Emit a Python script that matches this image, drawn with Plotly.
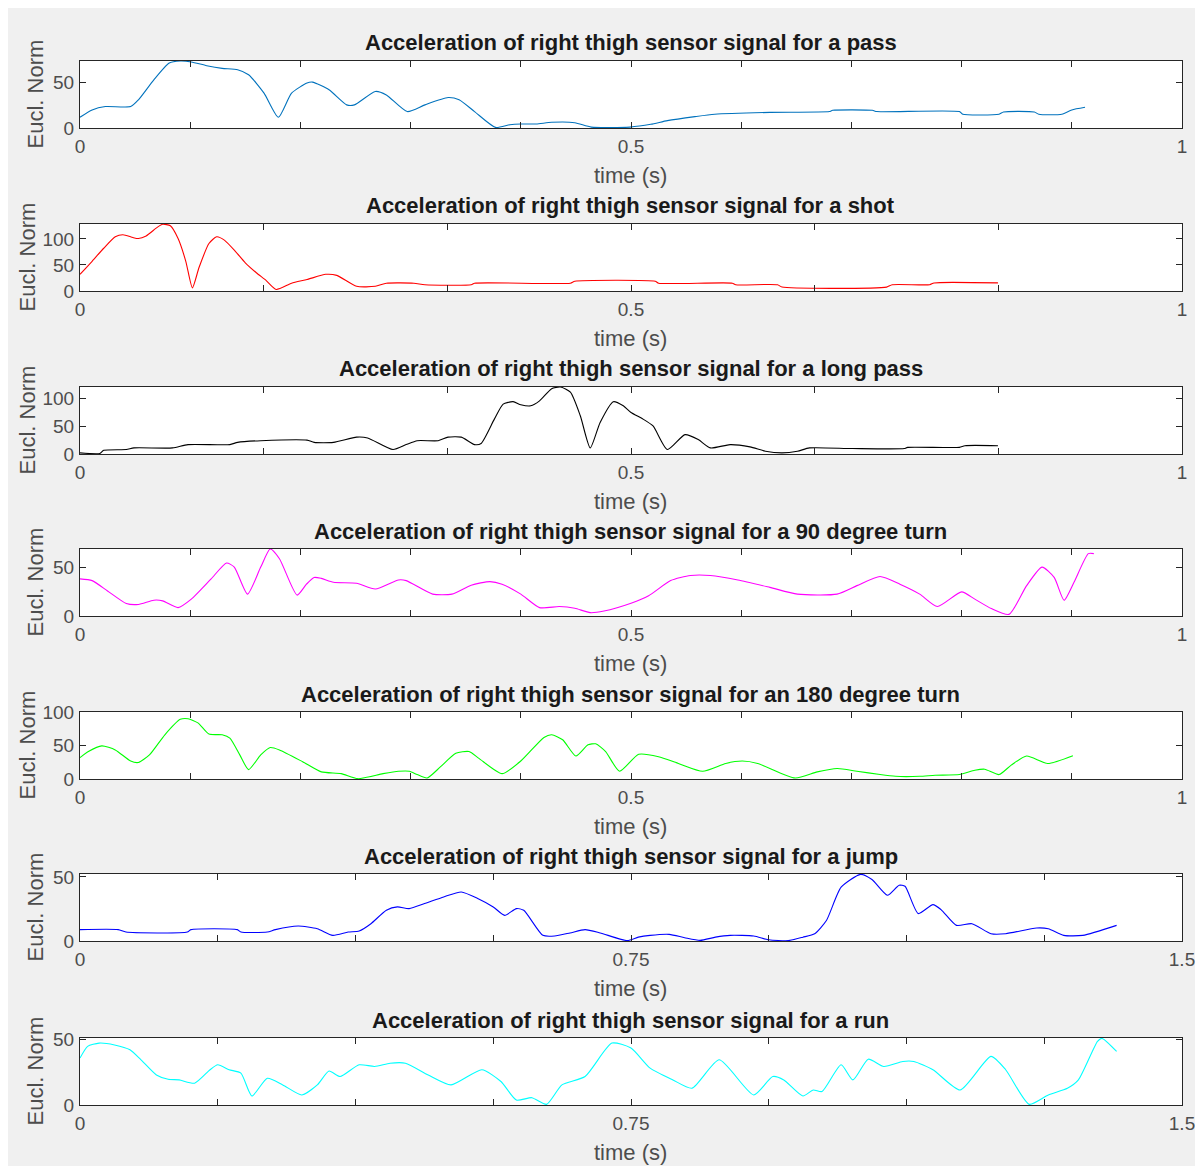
import plotly.graph_objects as go

# the page has an 8 px body margin: the figure starts at (8, 8) and fills the rest of the window
OFF = 8
W, H = 1203 - OFF, 1166 - OFF

# ---------------- data ----------------
pass_t = [0, 0.011, 0.023, 0.046, 0.053, 0.067, 0.081, 0.091, 0.101, 0.115, 0.129, 0.143, 0.153, 0.167,
          0.180, 0.192, 0.206, 0.211, 0.226, 0.242, 0.249, 0.268, 0.278, 0.297, 0.313, 0.334, 0.344, 0.358,
          0.377, 0.390, 0.400, 0.414, 0.428, 0.449, 0.464, 0.499, 0.518, 0.533, 0.558, 0.576, 0.626, 0.680,
          0.683, 0.719, 0.723, 0.798, 0.801, 0.834, 0.838, 0.866, 0.870, 0.891, 0.900, 0.912]
pass_v = [11.7, 19.7, 23.4, 23.4, 30.7, 52.5, 70.8, 73.0, 72.0, 67.9, 65.0, 63.5, 58.0, 38.0,
          11.7, 38.0, 49.0, 50.0, 41.6, 25.2, 25.2, 39.8, 36.0, 17.9, 25.2, 33.2, 30.7, 17.9,
          0.7, 3.6, 4.4, 4.4, 6.2, 5.8, 1.0, 1.0, 4.0, 8.0, 12.4, 15.0, 17.0, 17.9,
          19.3, 19.3, 17.9, 17.9, 15.0, 15.0, 17.5, 17.5, 15.0, 15.0, 19.7, 22.6]

shot_t = [0, 0.011, 0.0215, 0.032, 0.039, 0.048, 0.053, 0.060, 0.070, 0.075, 0.082, 0.089, 0.096, 0.102,
          0.108, 0.117, 0.124, 0.131, 0.141, 0.150, 0.160, 0.169, 0.178, 0.192, 0.206, 0.223, 0.233, 0.251,
          0.268, 0.278, 0.303, 0.313, 0.355, 0.358, 0.445, 0.449, 0.522, 0.525, 0.592, 0.595, 0.633, 0.637,
          0.732, 0.737, 0.771, 0.775, 0.833]
shot_v = [32, 57, 82, 104, 108, 102.5, 100.6, 105.6, 122, 128, 125, 100.6, 57, 6,
          45, 91, 104, 97.5, 76, 54, 35, 20, 3, 15, 22, 32, 30, 9,
          9, 15, 15, 12, 12, 15, 15, 18.6, 18.6, 15, 15, 12, 12, 7.5,
          7.5, 12, 12, 15.5, 15.5]

long_t = [0, 0.018, 0.0215, 0.042, 0.049, 0.084, 0.098, 0.136, 0.143, 0.164, 0.206, 0.2125, 0.230, 0.251,
          0.261, 0.284, 0.296, 0.306, 0.325, 0.334, 0.346, 0.358, 0.364, 0.376, 0.384, 0.393, 0.400, 0.409,
          0.417, 0.428, 0.436, 0.445, 0.454, 0.463, 0.472, 0.484, 0.493, 0.500, 0.511, 0.520, 0.533, 0.549,
          0.561, 0.572, 0.590, 0.608, 0.622, 0.637, 0.651, 0.662, 0.701, 0.748, 0.751, 0.798, 0.803, 0.833]
long_v = [2, 1, 6.7, 8, 11, 11, 17, 17, 21, 24, 25, 21, 21, 30.5,
          29, 8, 17, 24, 24, 30.5, 30.5, 17, 19, 63, 90, 94.5, 89, 87,
          96, 118, 121, 111.6, 69, 11, 57, 94.5, 87, 75, 63, 50.6, 8, 35,
          26, 11, 17, 12.8, 5, 2, 5, 11, 9.8, 9.8, 12, 12, 15, 15]

turn90_t = [0, 0.011, 0.025, 0.042, 0.053, 0.067, 0.075, 0.089, 0.101, 0.119, 0.133, 0.140, 0.152, 0.164,
            0.1726, 0.181, 0.197, 0.2055, 0.2125, 0.219, 0.230, 0.251, 0.268, 0.289, 0.296, 0.320, 0.3375,
            0.355, 0.372, 0.383, 0.400, 0.417, 0.435, 0.449, 0.463, 0.4755, 0.500, 0.516, 0.536, 0.554,
            0.572, 0.597, 0.626, 0.651, 0.687, 0.705, 0.726, 0.744, 0.762, 0.778, 0.800, 0.812, 0.827,
            0.843, 0.859, 0.873, 0.884, 0.893, 0.902, 0.915, 0.920]
turn90_v = [38.5, 36.7, 26, 13, 12, 16.4, 15.7, 8.7, 17.5, 38.5, 55, 50.7, 22.7, 50.7,
            69.5, 59.4, 21.7, 33, 40, 39, 35, 34, 28, 37.4, 36.7, 22.7, 22.7,
            32, 35.7, 33, 22.7, 8.7, 9.8, 8, 3.5, 5.2, 13.3, 21, 36.7, 42,
            42, 37.4, 29.7, 22.7, 22.7, 31.5, 41, 33, 22.7, 9.8, 25, 17.5, 7.7,
            1.7, 31.5, 50.7, 40, 16.4, 35, 64.7, 64.7]

turn180_t = [0, 0.0076, 0.0198, 0.032, 0.046, 0.053, 0.063, 0.077, 0.091, 0.098, 0.107, 0.117, 0.129, 0.136,
             0.145, 0.153, 0.164, 0.1726, 0.181, 0.202, 0.219, 0.237, 0.252, 0.275, 0.289, 0.299, 0.306,
             0.315, 0.327, 0.341, 0.353, 0.362, 0.383, 0.400, 0.421, 0.428, 0.438, 0.450, 0.461, 0.468,
             0.477, 0.4896, 0.507, 0.525, 0.543, 0.565, 0.586, 0.601, 0.615, 0.649, 0.669, 0.687, 0.705,
             0.726, 0.740, 0.762, 0.776, 0.798, 0.812, 0.821, 0.834, 0.845, 0.859, 0.878, 0.901]
turn180_v = [31.8, 41, 49.5, 43.4, 26.8, 24.7, 35.9, 66, 89, 90, 83.8, 67, 66, 61,
             36, 14, 36, 47, 43.4, 25.8, 10.6, 8, 0.5, 8, 11.6, 11.6, 6.6,
             1.5, 18, 38.4, 41, 30.8, 8, 26.8, 62, 66, 58.6, 34.3, 51, 52.5,
             41, 11.6, 36.9, 33.3, 23.2, 11.6, 23.2, 26.8, 23.2, 1.5, 10.6, 15.7, 11.6,
             6.6, 4, 4, 5.6, 6.6, 13, 14.6, 6.6, 20.7, 34.3, 23.2, 34.8]

jump_t = [0, 0.052, 0.0625, 0.146, 0.151, 0.214, 0.219, 0.255, 0.266, 0.297, 0.323, 0.344, 0.365, 0.380,
          0.396, 0.417, 0.432, 0.448, 0.469, 0.495, 0.519, 0.542, 0.5625, 0.578, 0.594, 0.604, 0.630, 0.646,
          0.667, 0.6875, 0.708, 0.745, 0.760, 0.776, 0.802, 0.823, 0.844, 0.865, 0.885, 0.917, 0.9375,
          0.964, 0.984, 1.000, 1.016, 1.036, 1.0625, 1.078, 1.099, 1.115, 1.123, 1.141, 1.161, 1.172,
          1.193, 1.214, 1.240, 1.260, 1.302, 1.318, 1.339, 1.365, 1.411]
jump_v = [8.9, 8.9, 7, 7, 8.9, 8.9, 7, 7, 8.9, 11.7, 9.6, 4.4, 7, 7.8,
          13.5, 24, 26.6, 25.3, 29.2, 34.4, 38.3, 33, 26.6, 20, 25.3, 24, 4.4, 3.9,
          6.3, 8.9, 6.3, 0.3, 3, 4.4, 5.2, 2.6, 0.5, 3, 4.4, 3.9, 1,
          0.3, 3, 5.7, 16, 42, 52, 48, 35.7, 43.5, 42.7, 21.4, 28.4, 24.5,
          12.2, 13.5, 5.7, 5.7, 10.2, 9.6, 4.4, 4.4, 12.2]

run_t = [0, 0.0104, 0.026, 0.047, 0.068, 0.083, 0.104, 0.120, 0.135, 0.156, 0.177, 0.1875, 0.203, 0.219,
         0.234, 0.255, 0.276, 0.302, 0.323, 0.339, 0.354, 0.380, 0.401, 0.422, 0.443, 0.474, 0.505, 0.547,
         0.573, 0.594, 0.615, 0.635, 0.656, 0.6875, 0.724, 0.750, 0.776, 0.807, 0.833, 0.870, 0.917,
         0.943, 0.958, 0.984, 0.998, 1.010, 1.036, 1.052, 1.073, 1.094, 1.120, 1.135, 1.161, 1.198,
         1.240, 1.260, 1.292, 1.318, 1.344, 1.359, 1.385, 1.391, 1.411]
run_v = [35.9, 44.9, 47.4, 46, 42.3, 34.6, 23, 19.7, 19.2, 16.7, 27, 30.8, 27, 24.4,
         6.9, 20.5, 15.4, 7.7, 15.4, 26, 21.8, 30.8, 29.5, 32, 32, 23, 15.4, 27,
         18, 3.8, 5.6, 0.5, 15.4, 21.8, 47.4, 43.6, 28.2, 19.2, 12.8, 34.6, 7.7,
         21.8, 19.2, 6.9, 11.5, 10.3, 30.8, 19.2, 35.1, 29.5, 33.3, 33.3, 27, 11.5,
         37.2, 27, 0.5, 7.7, 12.8, 19.2, 48.7, 51, 41]

titles = [
    "Acceleration of right thigh sensor signal for a pass",
    "Acceleration of right thigh sensor signal for a shot",
    "Acceleration of right thigh sensor signal for a long pass",
    "Acceleration of right thigh sensor signal for a 90 degree turn",
    "Acceleration of right thigh sensor signal for an 180 degree turn",
    "Acceleration of right thigh sensor signal for a jump",
    "Acceleration of right thigh sensor signal for a run",
]
series_t = [pass_t, shot_t, long_t, turn90_t, turn180_t, jump_t, run_t]
series_v = [pass_v, shot_v, long_v, turn90_v, turn180_v, jump_v, run_v]
colors = ["#0072BD", "#FF0000", "#000000", "#FF00FF", "#00FF00", "#0000FF", "#00FFFF"]
y_max = [73, 128.5, 121, 69.5, 100, 52.3, 51.3]
y_ticks = [[0, 50], [0, 50, 100], [0, 50, 100], [0, 50], [0, 50, 100], [0, 50], [0, 50]]
x_max = [1, 1, 1, 1, 1, 1.5, 1.5]
x_tick_step = [0.1, 1 / 6, 1 / 6, 0.1, 0.1, 0.1875, 0.1875]
x_tick_labels = [["0", "0.5", "1"]] * 5 + [["0", "0.75", "1.5"]] * 2
x_label = "time (s)"
y_label = "Eucl. Norm"

# ---------------- layout geometry (screen pixels) ----------------
box_top = [61, 224, 387, 549, 712, 874, 1038]
box_h = 67
x0_px, x1_px = 80, 1182


def px(x):
    return (x - OFF) / W


def py(y):
    return 1 - (y - OFF) / H


fig = go.Figure()
annotations = []
TICK_COLOR = "#4d4d4d"
FONT = "Liberation Sans, Arial, sans-serif"

for i in range(7):
    n = i + 1
    xa = "x" if n == 1 else f"x{n}"
    ya = "y" if n == 1 else f"y{n}"
    fig.add_trace(go.Scatter(
        x=series_t[i], y=series_v[i], mode="lines",
        line=dict(color=colors[i], width=1.1, shape="spline", smoothing=0.6),
        xaxis=xa, yaxis=ya, showlegend=False, hoverinfo="skip"))

    top = box_top[i]
    bot = top + box_h
    ydom = [py(bot), py(top)]
    xdom = [px(x0_px), px(x1_px)]

    nt = int(round(x_max[i] / x_tick_step[i]))
    tv = [k * x_tick_step[i] for k in range(nt + 1)]
    labs = x_tick_labels[i]
    tt = []
    for k in range(nt + 1):
        if k == 0:
            tt.append(labs[0])
        elif nt % 2 == 0 and k == nt // 2:
            tt.append(labs[1])
        elif k == nt:
            tt.append(labs[2])
        else:
            tt.append("")

    fig.layout[("xaxis" if n == 1 else f"xaxis{n}")] = dict(
        domain=xdom, range=[0, x_max[i]], anchor=ya,
        tickvals=tv, ticktext=tt, ticks="inside", ticklen=6, tickcolor="#262626",
        showline=True, linecolor="#262626", linewidth=1, mirror="ticks",
        showgrid=False, zeroline=False, automargin=False,
        tickfont=dict(family=FONT, size=19, color=TICK_COLOR), ticklabelstandoff=1,
    )
    fig.layout[("yaxis" if n == 1 else f"yaxis{n}")] = dict(
        domain=ydom, range=[0, y_max[i]], anchor=xa,
        tickvals=y_ticks[i], ticks="inside", ticklen=6, tickcolor="#262626",
        showline=True, linecolor="#262626", linewidth=1, mirror="ticks",
        showgrid=False, zeroline=False, automargin=False,
        tickfont=dict(family=FONT, size=19, color=TICK_COLOR), ticklabelstandoff=1,
    )

    annotations.append(dict(
        text=f"<b>{titles[i]}</b>", x=px(631), y=py(top - 18), xref="paper", yref="paper",
        xanchor="center", yanchor="middle", showarrow=False,
        font=dict(family=FONT, size=22, color="#1a1a1a")))
    annotations.append(dict(
        text=x_label, x=px(631), y=py(bot + 47), xref="paper", yref="paper",
        xanchor="center", yanchor="middle", showarrow=False,
        font=dict(family=FONT, size=22, color=TICK_COLOR)))
    ylx = 27 if 100 in y_ticks[i] else 35
    annotations.append(dict(
        text=y_label, x=px(ylx), y=py(top + box_h / 2), xref="paper", yref="paper",
        xanchor="center", yanchor="middle", showarrow=False, textangle=-90,
        font=dict(family=FONT, size=22, color=TICK_COLOR)))

fig.update_layout(
    width=W, height=H,
    margin=dict(l=0, r=0, t=0, b=0, autoexpand=False),
    paper_bgcolor="#f0f0f0", plot_bgcolor="#ffffff",
    annotations=annotations,
)

fig.write_html("out.html")
